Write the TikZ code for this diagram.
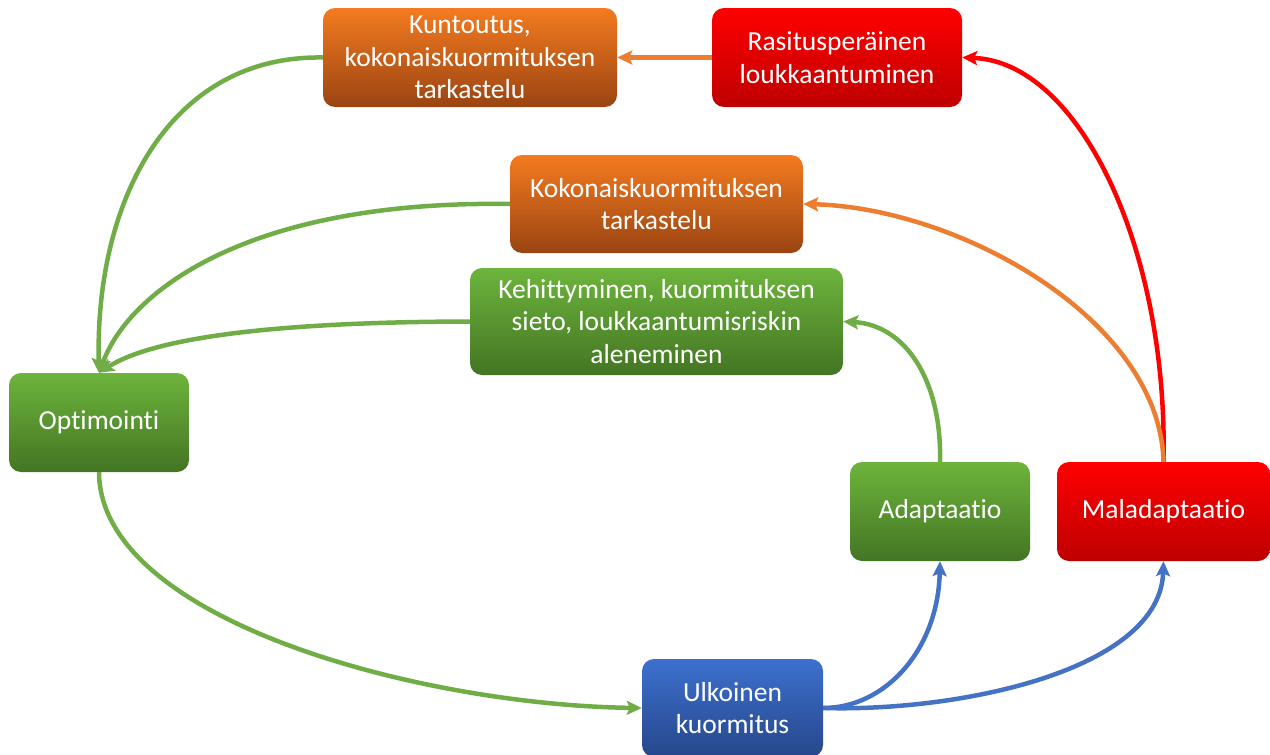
\documentclass[tikz,border=0pt]{standalone}
\usepackage{fontspec}
\setmainfont{Carlito}[Ligatures=NoCommon]
\usetikzlibrary{arrows.meta}
\definecolor{gline}{HTML}{70AD47}
\definecolor{oline}{HTML}{ED7D31}
\definecolor{rline}{HTML}{FF0000}
\definecolor{bline}{HTML}{4472C4}
\definecolor{gtop}{HTML}{6DB43C}
\definecolor{gbot}{HTML}{437523}
\definecolor{otop}{HTML}{F47B20}
\definecolor{obot}{HTML}{9A4412}
\definecolor{rtop}{HTML}{FF0000}
\definecolor{rbot}{HTML}{BE0000}
\definecolor{btop}{HTML}{3D70CF}
\definecolor{bbot}{HTML}{26478A}
\tikzset{
  box/.style={rounded corners=12pt, inner sep=0pt, align=center, text=white,
    font=\fontsize{27.5}{32.5}\selectfont},
  gbox/.style={box, top color=gtop, bottom color=gbot},
  obox/.style={box, top color=otop, bottom color=obot},
  rbox/.style={box, top color=rtop, bottom color=rbot},
  bbox/.style={box, top color=btop, bottom color=bbot},
  conn/.style={line width=4.5pt, -{Stealth[length=15pt,width=14pt,inset=3pt]}},
}
\begin{document}
\begin{tikzpicture}[x=1pt,y=-1pt]
\useasboundingbox (0,0) rectangle (1270,755);
\node[obox, minimum width=294pt, minimum height=99pt] (kunt) at (470,57.5) {Kuntoutus,\\kokonaiskuormituksen\\tarkastelu};
\node[rbox, minimum width=250pt, minimum height=99pt] (ras) at (837,57.5) {Rasitusperäinen\\loukkaantuminen};
\node[obox, minimum width=293pt, minimum height=98pt] (kok) at (656.5,204) {Kokonaiskuormituksen\\tarkastelu};
\node[gbox, minimum width=373pt, minimum height=107pt] (keh) at (656.5,321.5) {Kehittyminen, kuormituksen\\sieto, loukkaantumisriskin\\aleneminen};
\node[gbox, minimum width=180pt, minimum height=99pt] (opt) at (99,422.5) {Optimointi};
\node[gbox, minimum width=180pt, minimum height=99pt] (adap) at (940,511.5) {Adaptaatio};
\node[rbox, minimum width=213pt, minimum height=99pt] (mal) at (1163.5,511.5) {Maladaptaatio};
\node[bbox, minimum width=181pt, minimum height=98pt] (ulk) at (732.5,708) {Ulkoinen\\kuormitus};

\draw[conn, oline] (ras.west) -- (kunt.east);
\draw[conn, rline] (mal.north) .. controls (1168,250) and (1080,62) .. (ras.east);
\draw[conn, oline] (mal.north) .. controls (1160,320) and (960,208) .. (kok.east);
\draw[conn, gline] (adap.north) .. controls (942,380) and (905,325) .. (keh.east);
\draw[conn, bline] (ulk.east) .. controls (885,708) and (938,650) .. (adap.south);
\draw[conn, bline] (ulk.east) .. controls (960,712) and (1160,670) .. (mal.south);
\draw[conn, gline] (opt.south) .. controls (100,620) and (420,705) .. (ulk.west);
\draw[conn, gline] (kunt.west) .. controls (170,55) and (95,200) .. (opt.north);
\draw[conn, gline] (kok.west) .. controls (250,200) and (130,290) .. (opt.north);
\draw[conn, gline] (keh.west) .. controls (260,322) and (150,340) .. (opt.north);
\end{tikzpicture}
\end{document}
